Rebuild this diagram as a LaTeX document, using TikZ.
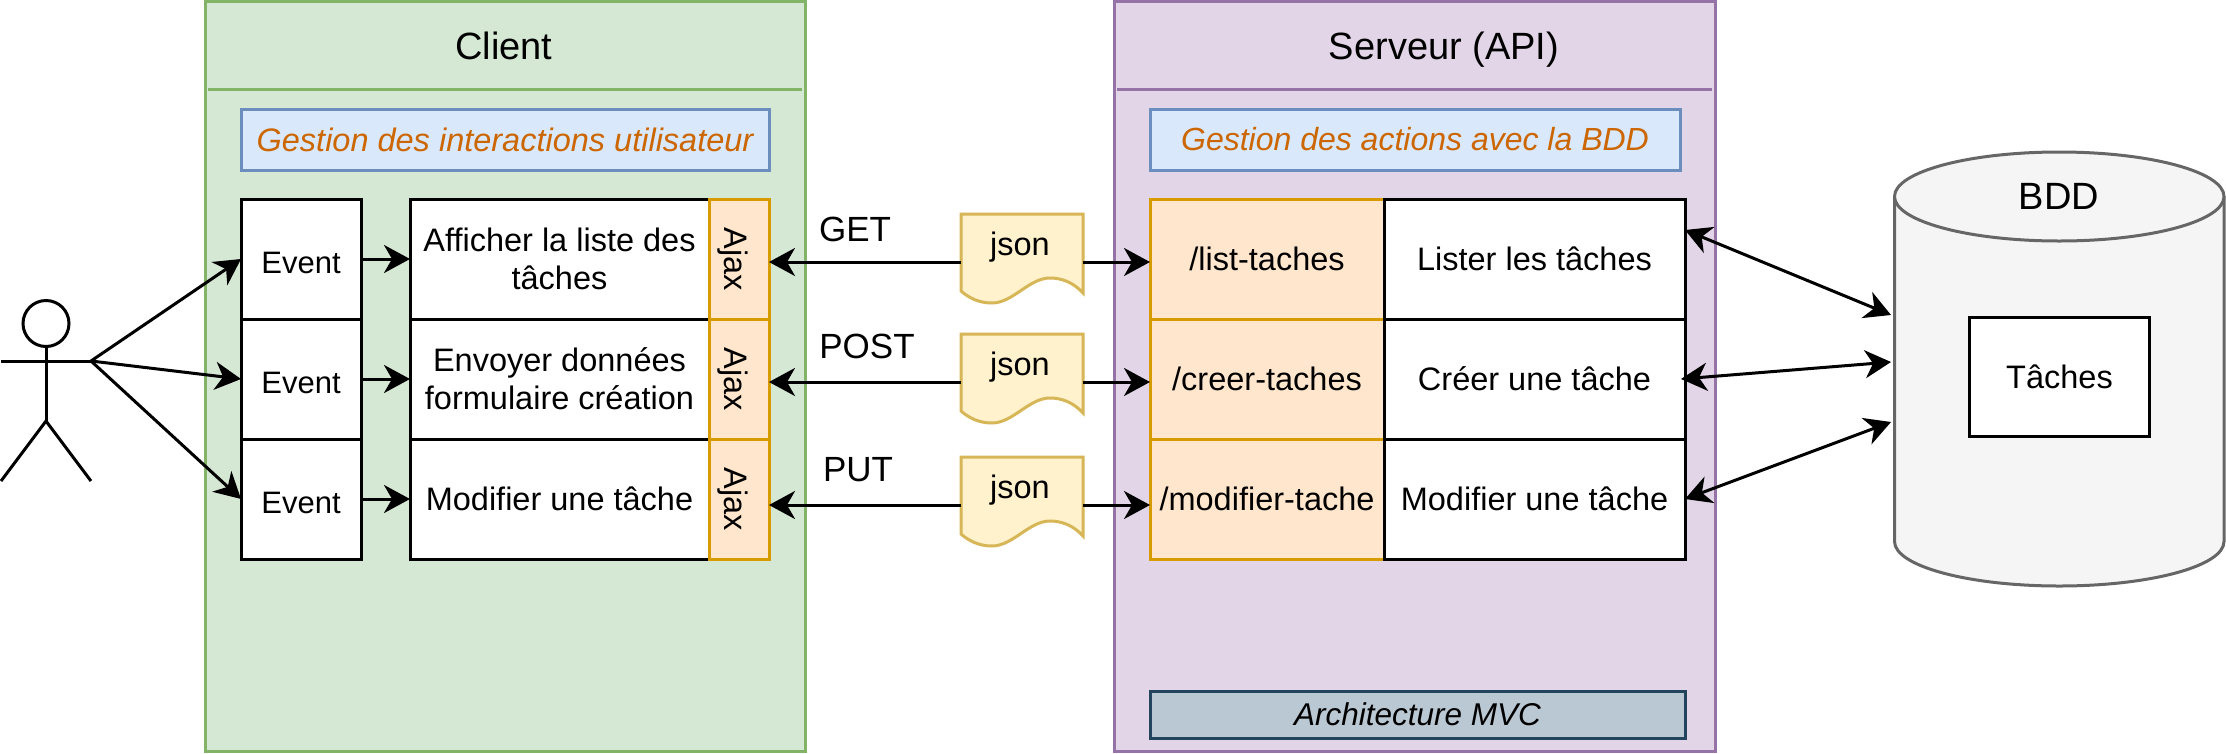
\documentclass[tikz,border=0pt]{standalone}
\usepackage{xcolor}
\usepackage{fontspec}
\setmainfont{Liberation Sans}
\usepackage{tikz}
\usetikzlibrary{arrows.meta,positioning}

\definecolor{clientfill}{HTML}{D5E8D4}
\definecolor{clientline}{HTML}{82B366}
\definecolor{serverfill}{HTML}{E1D5E7}
\definecolor{serverline}{HTML}{9673A6}
\definecolor{ajaxfill}{HTML}{FFE6CC}
\definecolor{ajaxline}{HTML}{D79B00}
\definecolor{notefill}{HTML}{DAE8FC}
\definecolor{noteline}{HTML}{6C8EBF}
\definecolor{notetext}{HTML}{CC6600}
\definecolor{docfill}{HTML}{FFF2CC}
\definecolor{docline}{HTML}{D6B656}
\definecolor{dbfill}{HTML}{F5F5F5}
\definecolor{dbline}{HTML}{666666}
\definecolor{mvcfill}{HTML}{BAC8D3}
\definecolor{mvcline}{HTML}{23445D}

\begin{document}
\begin{tikzpicture}[x=1pt,y=-1pt,node distance=120pt,on grid,line width=3pt,
	>={Stealth[length=26pt,width=28pt,inset=8pt]}]
	\tikzstyle{every node}=[outer sep=0pt,inner sep=0pt,align=center]
	\tikzstyle{zone}=[draw,minimum width=600pt,minimum height=750pt]
	\tikzstyle{title}=[anchor=base,font=\fontsize{38}{46}\selectfont]
	\tikzstyle{note}=[draw,minimum height=61pt,font=\fontsize{32.5}{38}\selectfont\itshape]
	\tikzstyle{cell}=[draw=black,fill=white,minimum height=120pt,font=\fontsize{32.5}{38}\selectfont]
	\tikzstyle{evtbox}=[cell,minimum width=120pt,text height=28pt,text depth=0pt,font=\fontsize{31}{38}\selectfont]
	\tikzstyle{actbox}=[cell,minimum width=299pt]
	\tikzstyle{ajaxbox}=[cell,draw=ajaxline,fill=ajaxfill,minimum width=120pt,minimum height=60pt,text height=30pt,text depth=0pt,rotate=-90]
	\tikzstyle{routebox}=[cell,draw=ajaxline,fill=ajaxfill,minimum width=234pt]
	\tikzstyle{handlerbox}=[cell,minimum width=301pt]
	\tikzstyle{verb}=[font=\fontsize{35}{42}\selectfont]
	\tikzstyle{jsondoc}=[minimum width=122pt,minimum height=96pt]
	\tikzstyle{jsonword}=[font=\fontsize{32.5}{38}\selectfont]

	\useasboundingbox (0,0) rectangle (2226,753);

	% zones
	\node[zone,draw=clientline,fill=clientfill] (client) at (505,376)  {};
	\node[zone,draw=serverline,fill=serverfill,minimum width=601pt] (server) at (1414.5,376) {};
	\draw[clientline] ([xshift=3pt,yshift=-88pt]client.north west) -- ([xshift=-3pt,yshift=-88pt]client.north east);
	\draw[serverline] ([xshift=3pt,yshift=-88pt]server.north west) -- ([xshift=-3pt,yshift=-88pt]server.north east);
	\node[title] (client_t) at (504,59)  {Client};
	\node[title] (server_t) at (1444,59) {Serveur (API)};

	\node[note,draw=noteline,fill=notefill,text=notetext,minimum width=528pt] (client_n) at (505,139.5) {Gestion des interactions utilisateur};
	\node[note,draw=noteline,fill=notefill,text=notetext,minimum width=530pt,font=\fontsize{32}{38}\selectfont\itshape] (server_n) at (1415,139.5) {Gestion des actions avec la BDD};
	\node[note,draw=mvcline,fill=mvcfill,minimum width=535pt,minimum height=47pt,font=\fontsize{31.5}{38}\selectfont\itshape] (mvc) at (1417.5,714.5) {Architecture MVC};

	% client rows
	\node[evtbox]  (event_1) at (301,259)            {Event};
	\node[evtbox]  (event_2) [below=of event_1]      {Event};
	\node[evtbox]  (event_3) [below=of event_2]      {Event};
	\node[actbox]  (act_1)   [right=258.5pt of event_1] {Afficher la liste des\\tâches};
	\node[actbox]  (act_2)   [right=258.5pt of event_2] {Envoyer données\\formulaire création};
	\node[actbox]  (act_3)   [right=258.5pt of event_3] {Modifier une tâche};
	\foreach \n in {1,2,3} {
		\node[ajaxbox] (ajax_\n) [right=179.5pt of act_\n] {Ajax};
	}

	% server rows
	\node[routebox]   (route_1)   at (1267,259)          {/list-taches};
	\node[routebox]   (route_2)   [below=of route_1]     {/creer-taches};
	\node[routebox]   (route_3)   [below=of route_2]     {/modifier-tache};
	\node[handlerbox] (handler_1) [right=267.5pt of route_1] {Lister les tâches};
	\node[handlerbox] (handler_2) [right=267.5pt of route_2] {Créer une tâche};
	\node[handlerbox] (handler_3) [right=267.5pt of route_3] {Modifier une tâche};

	% json documents
	\foreach \n/\y in {1/262,2/382,3/505} {
		\node[jsondoc] (json_\n) at (1022,\y) {};
		\begin{scope}[shift={(json_\n.north west)}]
			\draw[docline,fill=docfill] (0,0) -- (122,0) -- (122,79)
				.. controls (112,68) and (100,64) .. (89,64)
				.. controls (68,64) and (52,89) .. (31,89)
				.. controls (18,89) and (8,84) .. (0,77) -- cycle;
		\end{scope}
		\node[jsonword] (word_\n) at ([xshift=-2pt,yshift=15pt]json_\n.center) {json};
		\draw[->] (json_\n.west) -- (json_\n.west -| ajax_\n.north);
		\draw[->] (json_\n.east) -- (json_\n.east -| route_\n.west);
	}
	\node[verb] (verb_1) at (855,229) {GET};
	\node[verb] (verb_2) at (867,346) {POST};
	\node[verb] (verb_3) at (858,470) {PUT};

	% database
	\node[minimum width=329.5pt,minimum height=434pt] (bdd) at (2059.25,369) {};
	\begin{scope}[shift={(bdd.north west)}]
		\draw[dbline,fill=dbfill] (0,44.5) -- (0,389.5)
			arc[start angle=180,end angle=360,x radius=164.75pt,y radius=44.5pt]
			-- (329.5,44.5);
		\draw[dbline,fill=dbfill] (164.75,44.5) ellipse [x radius=164.75pt,y radius=44.5pt];
	\end{scope}
	\node[title,anchor=center] (bdd_t) at (2059,196) {BDD};
	\node[cell,minimum width=180pt,minimum height=119pt] (taches) at (2059.5,376.5) {Tâches};

	% actor
	\node[draw,circle,minimum size=46pt] (head) at (46,323.5) {};
	\coordinate (hand_l) at (1,361);
	\coordinate (hand_r) at (91,361);
	\coordinate (hip)    at (46,421);
	\coordinate (foot_l) at (1,481);
	\coordinate (foot_r) at (91,481);
	\draw (head.south) -- (hip);
	\draw (hand_l) -- (hand_r);
	\draw (foot_l) -- (hip) -- (foot_r);

	\path[->]
	(hand_r)  edge (event_1.west)
	          edge (event_2.west)
	          edge (event_3.west)
	(event_1) edge (act_1.west |- event_1.east)
	(event_2) edge (act_2.west |- event_2.east)
	(event_3) edge (act_3.west |- event_3.east);

	% database links
	\coordinate (link_1) at (1685,230);
	\coordinate (link_2) at (1681,379);
	\coordinate (base_1) at (1891,315);
	\coordinate (base_2) at (1891,362);
	\coordinate (base_3) at (1891,422);
	\path[<->]
	(link_1)         edge (base_1)
	(link_2)         edge (base_2)
	(handler_3.east) edge (base_3);
\end{tikzpicture}
\end{document}
